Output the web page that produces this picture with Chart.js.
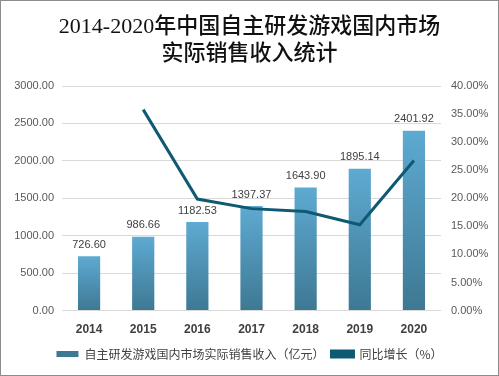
<!DOCTYPE html>
<html>
<head>
<meta charset="utf-8">
<script src="https://cdn.jsdelivr.net/npm/chart.js@4.4.1/dist/chart.umd.min.js"></script>
<style>
  html, body { margin: 0; padding: 0; background: #fff; }
  #wrap { position: relative; width: 499px; height: 376px; box-sizing: border-box; border: 1px solid #8c8c8c; }
  #c { display: block; }
</style>
</head>
<body>
<div id="wrap"><canvas id="c" width="497" height="374"></canvas></div>
<script>
const years = ['2014', '2015', '2016', '2017', '2018', '2019', '2020'];
const revenue = [726.60, 986.66, 1182.53, 1397.37, 1643.90, 1895.14, 2401.92];
const growth = [null, 35.79, 19.86, 18.16, 17.64, 15.28, 26.74];
const titleLines = ['2014-2020年中国自主研发游戏国内市场', '实际销售收入统计'];
const revenueLabel = '自主研发游戏国内市场实际销售收入（亿元）';
const growthLabel = '同比增长（%）';

const sans = '"Liberation Sans", "Noto Sans CJK SC", sans-serif';

function barFill(ctx) {
  const chart = ctx.chart;
  const area = chart.chartArea;
  if (!area || ctx.raw == null) return '#4f95b8';
  const top = chart.scales.y.getPixelForValue(ctx.raw);
  const g = chart.ctx.createLinearGradient(0, top, 0, area.bottom);
  g.addColorStop(0, '#5eaad2');
  g.addColorStop(1, '#3e7893');
  return g;
}

// value labels above bars
const barLabels = {
  id: 'barLabels',
  afterDatasetsDraw(chart) {
    const c = chart.ctx;
    const meta = chart.getDatasetMeta(0);
    c.save();
    c.font = '11px ' + sans;
    c.fillStyle = '#404040';
    c.textAlign = 'center';
    c.textBaseline = 'bottom';
    meta.data.forEach((bar, i) => {
      c.fillText(revenue[i].toFixed(2), bar.x, bar.y - 6);
    });
    c.restore();
  }
};

new Chart(document.getElementById('c'), {
  data: {
    labels: years,
    datasets: [
      {
        type: 'bar',
        label: revenueLabel,
        data: revenue,
        backgroundColor: barFill,
        borderWidth: 0,
        barPercentage: 0.41,
        categoryPercentage: 1,
        yAxisID: 'y',
        order: 2
      },
      {
        type: 'line',
        label: growthLabel,
        data: growth,
        borderColor: '#0f5a73',
        backgroundColor: '#0f5a73',
        borderWidth: 3,
        pointRadius: 0,
        tension: 0,
        yAxisID: 'y1',
        order: 1
      }
    ]
  },
  options: {
    responsive: false,
    animation: false,
    layout: { padding: { left: 8, right: 8, top: 12, bottom: 5 } },
    plugins: {
      title: {
        display: true,
        text: titleLines,
        color: '#111',
        font: { family: '"Liberation Serif", "Noto Sans CJK SC", serif', size: 22, weight: 500, lineHeight: 1.25 },
        padding: { top: 0, bottom: 18 }
      },
      legend: {
        position: 'bottom',
        labels: {
          color: '#404040',
          font: { family: '"Noto Sans CJK SC", sans-serif', size: 12 },
          boxWidth: 22,
          boxHeight: 6,
          padding: 7,
          sort: (a, b) => a.datasetIndex - b.datasetIndex
        }
      },
      tooltip: { enabled: false }
    },
    scales: {
      x: {
        grid: { display: false },
        border: { display: false },
        ticks: {
          color: '#404040',
          font: { family: sans, size: 12, weight: 'bold' },
          padding: 4
        }
      },
      y: {
        position: 'left',
        min: 0,
        max: 3000,
        ticks: {
          stepSize: 500,
          color: '#595959',
          font: { family: sans, size: 11 },
          padding: 8,
          callback: v => v.toFixed(2)
        },
        grid: { color: '#d9d9d9', drawTicks: false },
        border: { display: false },
        afterFit(scale) { scale.width = 53; }
      },
      y1: {
        position: 'right',
        min: 0,
        max: 40,
        ticks: {
          stepSize: 5,
          color: '#595959',
          font: { family: sans, size: 11 },
          padding: 10,
          callback: v => v.toFixed(2) + '%'
        },
        grid: { display: false, drawTicks: false },
        border: { display: false },
        afterFit(scale) { scale.width = 49; }
      }
    }
  },
  plugins: [barLabels]
});
</script>
</body>
</html>
